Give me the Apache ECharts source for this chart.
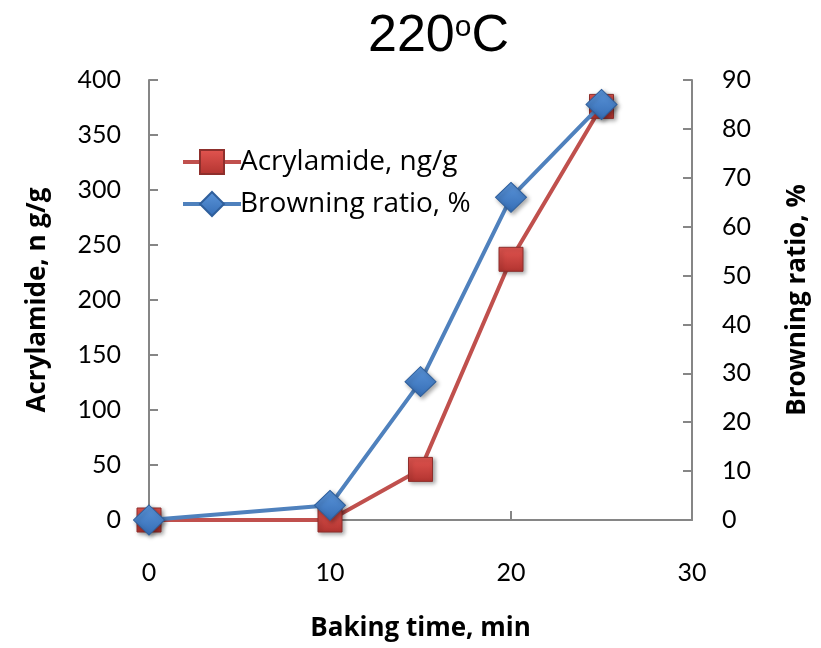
<!DOCTYPE html>
<html>
<head>
<meta charset="utf-8">
<script src="https://cdn.jsdelivr.net/npm/echarts@6/dist/echarts.min.js"></script>
<style>
  html, body { margin: 0; padding: 0; background: #fff; }
  #chart { width: 821px; height: 648px; }
</style>
</head>
<body>
<div id="chart"></div>
<script>
// baking time (min)
const bakingTime = [0, 10, 15, 20, 25];
// acrylamide, ng/g (left axis)
const acrylamide = [0, 0, 46, 237, 376];
// browning ratio, % (right axis)
const browning = [0, 3, 28.3, 66, 85];

const red = '#C0504D';
const blue = '#4F81BD';
const axisGray = '#868686';

const chart = echarts.init(document.getElementById('chart'));

const pairs = (xs, ys) => xs.map((x, i) => [x, ys[i]]);

// shared style for the bold axis titles
const axisNameStyle = { fontFamily: 'Open Sans', fontWeight: 'bold', fontSize: 26, color: '#000' };
const tickLabelStyle = { fontFamily: 'Lato', fontSize: 25, color: '#000' };

const option = {
  backgroundColor: '#fff',
  animation: false,
  title: {
    left: 363,
    top: 4,
    text: '{a|220}{b|o}{a|C}',
    textStyle: {
      fontWeight: 'normal',
      rich: {
        a: { fontFamily: 'Liberation Sans', fontWeight: 'normal', fontSize: 52, color: '#000', lineHeight: 56 },
        b: { fontFamily: 'Liberation Sans', fontWeight: 'normal', fontSize: 30, color: '#000', verticalAlign: 'top', lineHeight: 56, padding: [4, 0, 0, 0] }
      }
    }
  },
  legend: {
    orient: 'vertical',
    left: 176,
    top: 143,
    itemWidth: 58,
    itemHeight: 30,
    itemGap: 14,
    lineStyle: { width: 4 },
    textStyle: { fontFamily: 'Open Sans', fontSize: 28, color: '#000', padding: [0, 0, 0, -6] },
    data: ['Acrylamide, ng/g', 'Browning ratio, %']
  },
  grid: { left: 149, right: 129, top: 80, bottom: 128 },
  xAxis: {
    type: 'value',
    min: 0, max: 30, interval: 10,
    name: 'Baking time, min',
    nameLocation: 'middle',
    nameGap: 96,
    nameTextStyle: axisNameStyle,
    axisLine: { lineStyle: { color: axisGray, width: 2 } },
    axisTick: { inside: true, length: 9, lineStyle: { color: axisGray, width: 2 } },
    axisLabel: Object.assign({ margin: 40 }, tickLabelStyle),
    splitLine: { show: false }
  },
  yAxis: [
    {
      type: 'value',
      min: 0, max: 400, interval: 50,
      name: 'Acrylamide, n g/g',
      nameLocation: 'middle',
      nameRotate: 90,
      nameGap: 98,
      nameTextStyle: axisNameStyle,
      axisLine: { show: true, lineStyle: { color: axisGray, width: 2 } },
      axisTick: { show: true, inside: true, length: 9, lineStyle: { color: axisGray, width: 2 } },
      axisLabel: Object.assign({ margin: 28 }, tickLabelStyle),
      splitLine: { show: false }
    },
    {
      type: 'value',
      position: 'right',
      min: 0, max: 90, interval: 10,
      name: 'Browning ratio, %',
      nameLocation: 'middle',
      nameRotate: 90,
      nameGap: 93,
      nameTextStyle: axisNameStyle,
      axisLine: { show: true, lineStyle: { color: axisGray, width: 2 } },
      axisTick: { show: true, inside: true, length: 9, lineStyle: { color: axisGray, width: 2 } },
      axisLabel: Object.assign({ margin: 30 }, tickLabelStyle),
      splitLine: { show: false }
    }
  ],
  series: [
    {
      name: 'Acrylamide, ng/g',
      type: 'line',
      yAxisIndex: 0,
      data: pairs(bakingTime, acrylamide),
      symbol: 'rect',
      symbolSize: 24,
      lineStyle: { color: red, width: 4 },
      itemStyle: {
        color: new echarts.graphic.LinearGradient(0, 0, 0, 1, [
          { offset: 0, color: '#E25550' },
          { offset: 1, color: '#B23430' }
        ]),
        borderColor: '#8E2F2C',
        borderWidth: 1,
        shadowColor: 'rgba(0,0,0,0.35)',
        shadowBlur: 4,
        shadowOffsetX: 2,
        shadowOffsetY: 2
      },
      z: 2
    },
    {
      name: 'Browning ratio, %',
      type: 'line',
      yAxisIndex: 1,
      data: pairs(bakingTime, browning),
      symbol: 'diamond',
      symbolSize: [31, 30],
      lineStyle: { color: blue, width: 4 },
      itemStyle: {
        color: new echarts.graphic.LinearGradient(0, 0, 0, 1, [
          { offset: 0, color: '#5B95DA' },
          { offset: 1, color: '#356DB5' }
        ]),
        borderColor: '#2F5F9C',
        borderWidth: 1,
        shadowColor: 'rgba(0,0,0,0.35)',
        shadowBlur: 4,
        shadowOffsetX: 2,
        shadowOffsetY: 2
      },
      z: 3
    }
  ]
};

chart.setOption(option);
</script>
</body>
</html>
